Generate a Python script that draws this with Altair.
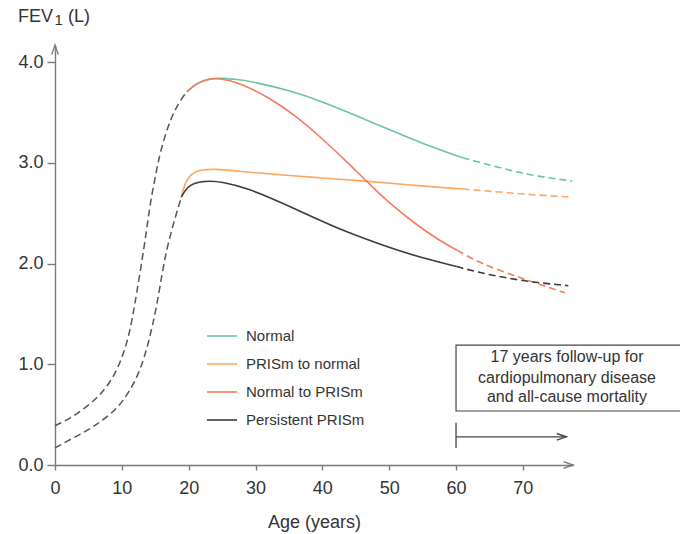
import altair as alt
import pandas as pd

# ---------------- data ----------------
SERIES = ["Normal", "PRISm to normal", "Normal to PRISm", "Persistent PRISm"]
COLORS = ["#6cc69c", "#fca862", "#f57d5e", "#3b3b3b"]

# early-life growth curves (dashed, black)
early_upper_age = [0, 2.2, 4.2, 6.2, 7.7, 9.2, 10.2, 11.0, 11.7, 12.2, 13.0, 13.7, 14.2, 15.0, 15.7, 17.2, 18.7, 19.8]
early_upper_fev = [0.39, 0.46, 0.55, 0.66, 0.77, 0.93, 1.10, 1.27, 1.50, 1.70, 2.02, 2.33, 2.58, 2.86, 3.10, 3.43, 3.62, 3.71]
early_lower_age = [0, 2.2, 4.2, 6.2, 8.2, 10.0, 12.5, 14.0, 15.2, 16.3, 17.2, 18.0, 18.9]
early_lower_fev = [0.17, 0.25, 0.32, 0.40, 0.50, 0.61, 0.88, 1.21, 1.56, 2.02, 2.27, 2.46, 2.66]

# adult trajectories, solid part
normal_age = [19.8, 21, 22.5, 24, 25, 27, 30, 35, 40, 45, 50, 55, 61]
normal_fev = [3.71, 3.78, 3.82, 3.84, 3.84, 3.83, 3.80, 3.72, 3.61, 3.47, 3.33, 3.19, 3.05]
prism_normal_age = [18.9, 19.5, 20.7, 22, 23.7, 27, 33.7, 40, 46.4, 53, 61]
prism_normal_fev = [2.66, 2.82, 2.91, 2.93, 2.94, 2.92, 2.88, 2.85, 2.82, 2.78, 2.74]
normal_prism_age = [19.8, 21, 22.5, 24, 26, 28, 32, 36, 40, 44, 46.4, 50, 53.6, 57, 60.2]
normal_prism_fev = [3.71, 3.78, 3.83, 3.84, 3.82, 3.78, 3.65, 3.47, 3.24, 2.99, 2.83, 2.60, 2.41, 2.25, 2.13]
persist_age = [18.9, 19.5, 20.2, 21.5, 23.2, 25, 28.7, 33.7, 38.6, 43.7, 48.7, 53.6, 60.1]
persist_fev = [2.66, 2.73, 2.78, 2.81, 2.82, 2.81, 2.75, 2.61, 2.46, 2.31, 2.19, 2.08, 1.97]

# projected part (dashed)
normal_proj_age = [61, 66.6, 71.6, 77.4]
normal_proj_fev = [3.05, 2.95, 2.87, 2.82]
prism_normal_proj_age = [61, 66.6, 72, 77.4]
prism_normal_proj_fev = [2.74, 2.71, 2.68, 2.66]
normal_prism_proj_age = [60.2, 64, 69.2, 72.6, 76.3]
normal_prism_proj_fev = [2.13, 1.99, 1.87, 1.79, 1.71]
persist_proj_age = [60.1, 64, 70.6, 76.8]
persist_proj_fev = [1.97, 1.90, 1.82, 1.78]

# annotation
box_lines = ["17 years follow-up for", "cardiopulmonary disease", "and all-cause mortality"]
box_line_fev = [1.072, 0.864, 0.675]
box_text_age = 76.6
box_age = [60, 100]
box_fev = [0.536, 1.19]
followup_age = [60, 76.5]
followup_fev = 0.28
followup_tick_fev = [0.17, 0.42]

# y-axis title pieces: "FEV" + subscript "1" + " (L)"
title_main = "FEV"
title_sub = "1"
title_unit = "(L)"

X_MAX = 77.5
Y_MAX = 4.17

# ---------------- tables ----------------
def rows(name, ages, fevs):
    return [{"series": name, "age": a, "fev": f} for a, f in zip(ages, fevs)]

solid = pd.DataFrame(
    rows(SERIES[0], normal_age, normal_fev)
    + rows(SERIES[1], prism_normal_age, prism_normal_fev)
    + rows(SERIES[2], normal_prism_age, normal_prism_fev)
    + rows(SERIES[3], persist_age, persist_fev)
)
dashed = pd.DataFrame(
    rows(SERIES[0], normal_proj_age, normal_proj_fev)
    + rows(SERIES[1], prism_normal_proj_age, prism_normal_proj_fev)
    + rows(SERIES[2], normal_prism_proj_age, normal_prism_proj_fev)
    + rows(SERIES[3], persist_proj_age, persist_proj_fev)
)
early = pd.DataFrame(
    rows("upper", early_upper_age, early_upper_fev) + rows("lower", early_lower_age, early_lower_fev)
)

FONT = "Liberation Sans"
AX = "#7a7a7a"
TXT = "#333333"

xs = alt.Scale(domain=[0, X_MAX], nice=False, zero=False)
ys = alt.Scale(domain=[0, Y_MAX], nice=False, zero=False)

x_axis = alt.Axis(values=[0, 10, 20, 30, 40, 50, 60, 70], title="Age (years)", grid=False,
                  domainColor=AX, domainWidth=1.4, tickColor=AX, tickSize=5, tickWidth=1.4,
                  labelFont=FONT, labelFontSize=18, labelColor=TXT, labelPadding=9,
                  labelFlush=False,
                  titleFont=FONT, titleFontSize=18, titleFontWeight="normal", titleColor=TXT,
                  titlePadding=16)
y_axis = alt.Axis(values=[0, 1, 2, 3, 4], format=".1f", title=None, grid=False,
                  domainColor=AX, domainWidth=1.4, tickColor=AX, tickSize=8, tickWidth=1.4,
                  labelFont=FONT, labelFontSize=18, labelColor=TXT, labelPadding=4,
                  labelFlush=False)


def X(field):
    return alt.X(field, scale=xs, axis=x_axis)


def Y(field):
    return alt.Y(field, scale=ys, axis=y_axis)


color_scale = alt.Scale(domain=SERIES, range=COLORS)
INTERP = "basis"

solid_layer = alt.Chart(solid).mark_line(strokeWidth=1.6, interpolate=INTERP).encode(
    x=X("age:Q"),
    y=Y("fev:Q"),
    color=alt.Color("series:N", scale=color_scale,
                    legend=alt.Legend(title=None, orient="none", legendX=151, legendY=275,
                                      symbolType="stroke", symbolSize=900, symbolStrokeWidth=1.6,
                                      labelFont=FONT, labelFontSize=15, labelColor=TXT,
                                      labelOffset=8, rowPadding=4, padding=0)),
    order=alt.Order("age:Q"),
)

dashed_layer = alt.Chart(dashed).mark_line(strokeWidth=1.6, strokeDash=[7, 4], interpolate=INTERP).encode(
    x=X("age:Q"),
    y=Y("fev:Q"),
    color=alt.Color("series:N", scale=color_scale, legend=None),
    order=alt.Order("age:Q"),
)

early_layer = alt.Chart(early).mark_line(strokeWidth=1.5, strokeDash=[7, 4], color="#555555",
                                         interpolate=INTERP).encode(
    x=X("age:Q"),
    y=Y("fev:Q"),
    detail="series:N",
    order=alt.Order("age:Q"),
)

box_df = pd.DataFrame({"age": [box_age[0]], "x2": [box_age[1]], "fev": [box_fev[0]], "y2": [box_fev[1]]})
box_layer = alt.Chart(box_df).mark_rect(fill="white", stroke="#444444", strokeWidth=1.2).encode(
    x=X("age:Q"), x2="x2:Q",
    y=Y("fev:Q"), y2="y2:Q",
)

text_df = pd.DataFrame({"t": box_lines, "fev": box_line_fev, "age": [box_text_age] * 3})
text_layer = alt.Chart(text_df).mark_text(font=FONT, fontSize=16, color=TXT, align="center",
                                          baseline="middle").encode(
    x=X("age:Q"),
    y=Y("fev:Q"),
    text="t:N",
)

fu_df = pd.DataFrame({"age": [followup_age[0]], "x2": [followup_age[1]], "fev": [followup_fev]})
fu_layer = alt.Chart(fu_df).mark_rule(color="#444444", strokeWidth=1.3).encode(
    x=X("age:Q"), x2="x2:Q",
    y=Y("fev:Q"),
)
fu_tick_df = pd.DataFrame({"age": [followup_age[0]], "fev": [followup_tick_fev[0]], "y2": [followup_tick_fev[1]]})
fu_tick_layer = alt.Chart(fu_tick_df).mark_rule(color="#444444", strokeWidth=1.3).encode(
    x=X("age:Q"),
    y=Y("fev:Q"), y2="y2:Q",
)

RIGHT_ARROW = "M-2,-0.7L0,0L-2,0.7"
UP_ARROW = "M-0.7,2L0,0L0.7,2"

right_heads = pd.DataFrame({"age": [X_MAX, followup_age[1]], "fev": [0, followup_fev],
                            "c": [AX, "#444444"]})
right_head_layer = alt.Chart(right_heads).mark_point(shape=RIGHT_ARROW, filled=False, size=90,
                                                     strokeWidth=1.4, opacity=1).encode(
    x=X("age:Q"),
    y=Y("fev:Q"),
    stroke=alt.Stroke("c:N", scale=None, legend=None),
)
up_head = pd.DataFrame({"age": [0], "fev": [Y_MAX]})
up_head_layer = alt.Chart(up_head).mark_point(shape=UP_ARROW, filled=False, size=90,
                                              strokeWidth=1.4, opacity=1, color=AX).encode(
    x=X("age:Q"),
    y=Y("fev:Q"),
)

# y-axis title (placed above the axis, as in the figure)
one = pd.DataFrame({"k": [0]})
title_a = alt.Chart(one).mark_text(text=title_main, font=FONT, fontSize=18, color=TXT,
                                   align="left", baseline="alphabetic").encode(
    x=alt.value(-37), y=alt.value(-23))
title_b = alt.Chart(one).mark_text(text=title_sub, font=FONT, fontSize=15, color=TXT,
                                   align="left", baseline="alphabetic").encode(
    x=alt.value(-0.5), y=alt.value(-20))
title_c = alt.Chart(one).mark_text(text=title_unit, font=FONT, fontSize=18, color=TXT,
                                   align="left", baseline="alphabetic").encode(
    x=alt.value(13), y=alt.value(-23))

chart = alt.layer(
    solid_layer, dashed_layer, early_layer, box_layer, text_layer,
    fu_layer, fu_tick_layer, right_head_layer, up_head_layer,
    title_a, title_b, title_c,
).properties(
    width=518, height=420,
    autosize=alt.AutoSizeParams(type="none"),
    padding={"left": 55, "top": 45, "right": 107, "bottom": 69},
    background="white",
).configure_view(stroke=None)

chart.save("out.html", embed_options={"renderer": "svg", "actions": False})
